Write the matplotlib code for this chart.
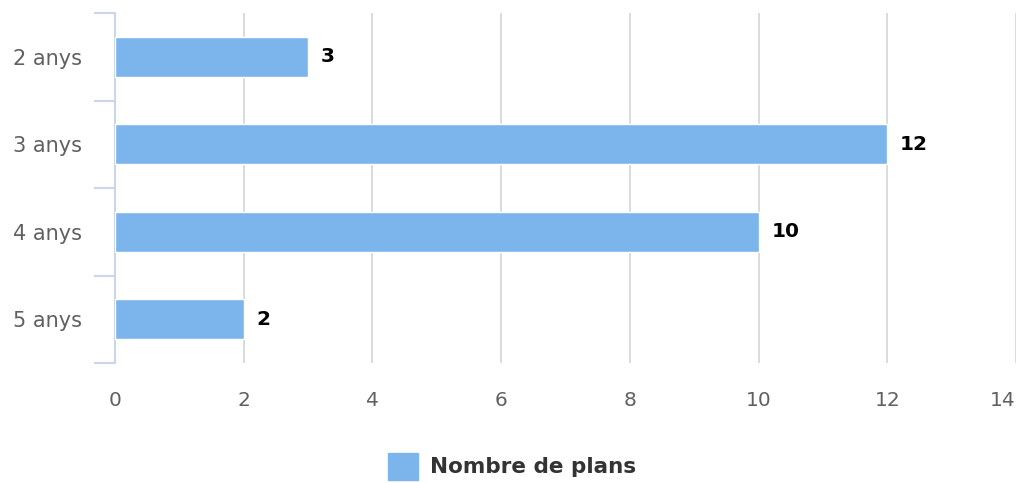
import matplotlib.pyplot as plt
from matplotlib.patches import Rectangle

categories = ['2 anys', '3 anys', '4 anys', '5 anys']
plans = [3, 12, 10, 2]
series_name = 'Nombre de plans'
x_ticks = [0, 2, 4, 6, 8, 10, 12, 14]

bar_color = '#7cb5ec'
W, H = 1019, 483

fig = plt.figure(figsize=(W / 100, H / 100), dpi=100)
ax = fig.add_axes([115 / W, 1 - 363 / H, (1016 - 115) / W, (363 - 13) / H])

ypos = list(range(len(categories)))
ax.barh(ypos, plans, height=0.46, color=bar_color, edgecolor='white', linewidth=1, zorder=3)

for y, v in zip(ypos, plans):
    ax.text(v + 0.2, y, str(v), va='center', ha='left', fontsize=14.5,
            fontweight='bold', color='black')

ax.set_xlim(0, 14)
ax.set_ylim(3.5, -0.5)
ax.set_xticks(x_ticks)
ax.set_xticklabels([str(t) for t in x_ticks])
ax.set_yticks(ypos)
ax.set_yticklabels(categories)
ax.grid(axis='x', color='#d8d8d8', linewidth=1.3, zorder=0)

for s in ['top', 'right', 'bottom']:
    ax.spines[s].set_visible(False)
ax.spines['left'].set_color('#ccd6eb')
ax.spines['left'].set_linewidth(1.5)

ax.tick_params(axis='x', length=0, pad=20, labelsize=14.5, labelcolor='#606060')
ax.tick_params(axis='y', length=0, pad=24, labelsize=15, labelcolor='#606060')

# last x label kept inside the figure
last = ax.get_xticklabels()[-1]
last.set_horizontalalignment('right')

# category boundary ticks on the left axis
for b in [-0.5, 0.5, 1.5, 2.5, 3.5]:
    ax.plot([-20 / 64.4, 0], [b, b], color='#ccd6eb', linewidth=1.5,
            clip_on=False, zorder=4)

# legend
fig.patches.append(Rectangle((388 / W, 1 - 480 / H), 30 / W, 27 / H,
                             transform=fig.transFigure, color=bar_color))
fig.text(430 / W, 1 - 467 / H, series_name, fontsize=15.5, fontweight='bold',
         color='#333333', va='center', ha='left')

fig.savefig('out.png', dpi=100)
